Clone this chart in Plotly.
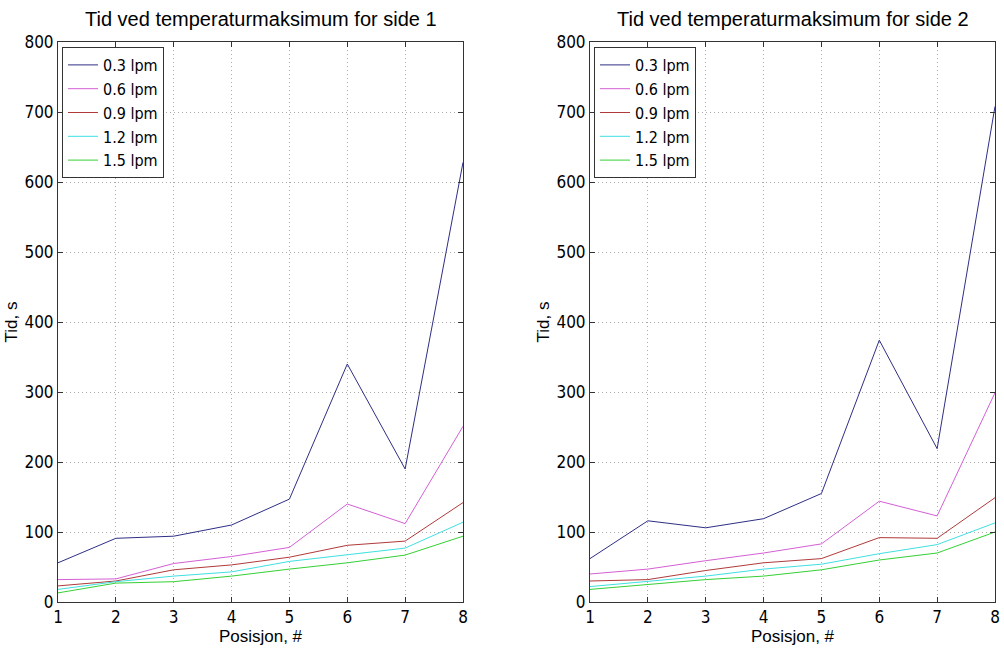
import plotly.graph_objects as go

positions = [1, 2, 3, 4, 5, 6, 7, 8]
series_names = ["0.3 lpm", "0.6 lpm", "0.9 lpm", "1.2 lpm", "1.5 lpm"]
colors = ["#2e2e85", "#d45fd4", "#b03a3a", "#3fe0e0", "#35d035"]

side1_03 = [56, 91, 94, 110, 147, 340, 190, 628]
side1_06 = [32, 33, 55, 65, 78, 140, 112, 251]
side1_09 = [23, 30, 46, 53, 64, 81, 87, 142]
side1_12 = [18, 29, 37, 43, 58, 67, 77, 114]
side1_15 = [13, 27, 29, 37, 47, 56, 67, 94]

side2_03 = [62, 116, 106, 119, 155, 374, 219, 708]
side2_06 = [40, 47, 59, 70, 83, 144, 123, 299]
side2_09 = [30, 32, 45, 56, 62, 92, 91, 149]
side2_12 = [22, 29, 37, 47, 54, 69, 82, 113]
side2_15 = [18, 25, 32, 37, 46, 60, 70, 100]

side1 = [side1_03, side1_06, side1_09, side1_12, side1_15]
side2 = [side2_03, side2_06, side2_09, side2_12, side2_15]

titles = ["Tid ved temperaturmaksimum for side 1", "Tid ved temperaturmaksimum for side 2"]
y_title = "Tid, s"
x_title = "Posisjon, #"
x_ticks = [1, 2, 3, 4, 5, 6, 7, 8]
y_ticks = [0, 100, 200, 300, 400, 500, 600, 700, 800]

W, H = 1004, 649
narrow = "Liberation Sans Narrow, DejaVu Sans Condensed, Arial Narrow, sans-serif"
tick_font = dict(family=narrow, size=17, color="black")
label_font = dict(family="Liberation Sans, Arial, sans-serif", size=17, color="black")

fig = go.Figure()

domains = [(58 / W, 463 / W), (590 / W, 995 / W)]
y_dom = (47 / H, 607 / H)

for k, data in enumerate([side1, side2]):
    xa = "x" if k == 0 else "x2"
    ya = "y" if k == 0 else "y2"
    lg = "legend" if k == 0 else "legend2"
    for name, vals, c in zip(series_names, data, colors):
        fig.add_trace(go.Scatter(
            x=positions, y=vals, mode="lines", name=name,
            line=dict(color=c, width=1), xaxis=xa, yaxis=ya, legend=lg,
        ))

axis_common = dict(
    showline=True, linecolor="#333333", linewidth=1, mirror="ticks",
    ticks="inside", ticklen=5, tickcolor="#333333",
    showgrid=True, gridcolor="#aaaaaa", griddash="1px,3px", gridwidth=1,
    zeroline=False, tickfont=tick_font, automargin=False,
)

layout = dict(
    width=W, height=H, margin=dict(l=0, r=0, t=0, b=0, autoexpand=False),
    paper_bgcolor="white", plot_bgcolor="white",
    showlegend=True,
)
for k in range(2):
    sx = "" if k == 0 else "2"
    layout["xaxis" + sx] = dict(
        axis_common, domain=list(domains[k]), range=[1, 8], tickvals=x_ticks,
        anchor="y" + sx,
        title=dict(text=x_title, font=label_font, standoff=2),
    )
    layout["yaxis" + sx] = dict(
        axis_common, domain=list(y_dom), range=[0, 800], tickvals=y_ticks,
        anchor="x" + sx,
        title=dict(text=y_title, font=label_font, standoff=2),
    )

legend_common = dict(
    bgcolor="white", bordercolor="#333333", borderwidth=1,
    font=dict(family=narrow, size=16, color="black"),
    xanchor="left", yanchor="top", tracegroupgap=0, itemwidth=30,
)
layout["legend"] = dict(legend_common, x=62 / W, y=1 - 47 / H)
layout["legend2"] = dict(legend_common, x=594 / W, y=1 - 47 / H)

annotations = []
for k in range(2):
    cx = (domains[k][0] + domains[k][1]) / 2
    annotations.append(dict(
        text=titles[k], x=cx, y=1 - 19 / H, xref="paper", yref="paper",
        xanchor="center", yanchor="middle", showarrow=False,
        font=dict(family="Liberation Sans, Arial, sans-serif", size=20, color="black"),
    ))
layout["annotations"] = annotations

fig.update_layout(**layout)
fig.write_html("out.html")
